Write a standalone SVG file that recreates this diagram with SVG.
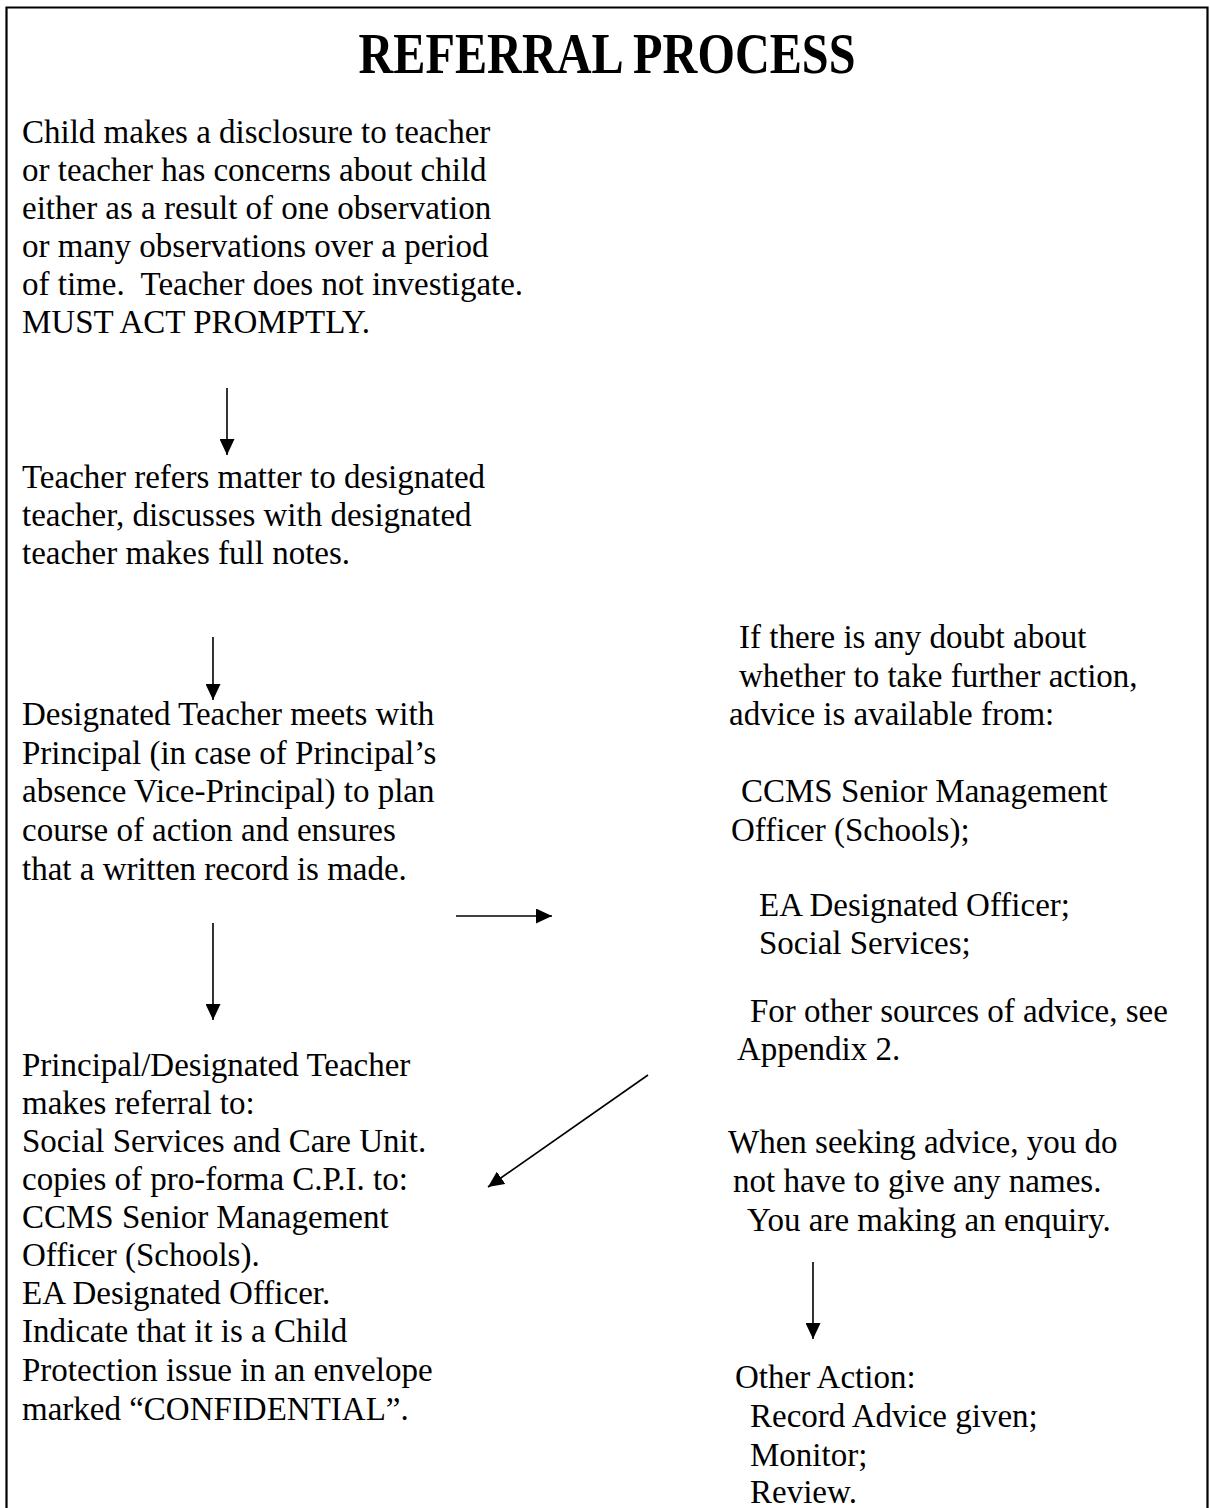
<svg xmlns="http://www.w3.org/2000/svg" width="1210" height="1508" viewBox="0 0 1210 1508">
<defs>
<style>
.t{font-family:"Liberation Serif","Times New Roman",serif;font-size:33px;fill:#000}
.title{font-family:"Liberation Serif","Times New Roman",serif;font-size:58px;font-weight:bold;fill:#000}
.c{stroke:#000;stroke-width:1.6;fill:none}
.frame{stroke:#000;stroke-width:2.2;fill:none}
</style>
<marker id="ah" markerUnits="userSpaceOnUse" markerWidth="16" markerHeight="15" refX="16" refY="7.5" orient="auto">
<path d="M0,0 L16,7.5 L0,15 z" fill="#000"/>
</marker>
</defs>
<rect width="1210" height="1508" fill="#fff"/>
<path class="frame" d="M6.5,1508 V7.5 H1207.5 V1508"/>
<g id="title"><text class="title" x="607" y="73" text-anchor="middle" textLength="497" lengthAdjust="spacingAndGlyphs">REFERRAL PROCESS</text></g>
<g id="node-disclosure">
<text class="t" x="22" y="143">Child makes a disclosure to teacher</text>
<text class="t" x="22" y="181">or teacher has concerns about child</text>
<text class="t" x="22" y="219">either as a result of one observation</text>
<text class="t" x="22" y="257">or many observations over a period</text>
<text class="t" x="22" y="295" xml:space="preserve">of time.  Teacher does not investigate.</text>
<text class="t" x="22" y="333">MUST ACT PROMPTLY.</text>
</g>
<g id="node-refers">
<text class="t" x="22" y="488">Teacher refers matter to designated</text>
<text class="t" x="22" y="526">teacher, discusses with designated</text>
<text class="t" x="22" y="564">teacher makes full notes.</text>
</g>
<g id="node-designated">
<text class="t" x="22" y="725">Designated Teacher meets with</text>
<text class="t" x="22" y="764">Principal (in case of Principal’s</text>
<text class="t" x="22" y="802">absence Vice-Principal) to plan</text>
<text class="t" x="22" y="841">course of action and ensures</text>
<text class="t" x="22" y="880">that a written record is made.</text>
</g>
<g id="node-referral">
<text class="t" x="22" y="1076">Principal/Designated Teacher</text>
<text class="t" x="22" y="1114">makes referral to:</text>
<text class="t" x="22" y="1152">Social Services and Care Unit.</text>
<text class="t" x="22" y="1190">copies of pro-forma C.P.I. to:</text>
<text class="t" x="22" y="1228">CCMS Senior Management</text>
<text class="t" x="22" y="1266">Officer (Schools).</text>
<text class="t" x="22" y="1304">EA Designated Officer.</text>
<text class="t" x="22" y="1342">Indicate that it is a Child</text>
<text class="t" x="22" y="1381">Protection issue in an envelope</text>
<text class="t" x="22" y="1420">marked “CONFIDENTIAL”.</text>
</g>
<g id="node-advice">
<text class="t" x="739" y="648">If there is any doubt about</text>
<text class="t" x="739" y="687">whether to take further action,</text>
<text class="t" x="729" y="725">advice is available from:</text>
<text class="t" x="741" y="802">CCMS Senior Management</text>
<text class="t" x="731" y="841">Officer (Schools);</text>
<text class="t" x="759" y="916">EA Designated Officer;</text>
<text class="t" x="759" y="954">Social Services;</text>
<text class="t" x="750" y="1022">For other sources of advice, see</text>
<text class="t" x="737" y="1060">Appendix 2.</text>
</g>
<g id="node-enquiry">
<text class="t" x="728" y="1153">When seeking advice, you do</text>
<text class="t" x="733" y="1192">not have to give any names.</text>
<text class="t" x="747" y="1231">You are making an enquiry.</text>
</g>
<g id="node-other">
<text class="t" x="735" y="1388">Other Action:</text>
<text class="t" x="750" y="1427">Record Advice given;</text>
<text class="t" x="750" y="1466">Monitor;</text>
<text class="t" x="750" y="1503">Review.</text>
</g>
<g id="connectors">
<line class="c" x1="227" y1="388" x2="227" y2="455" marker-end="url(#ah)"/>
<line class="c" x1="213" y1="637" x2="213" y2="700" marker-end="url(#ah)"/>
<line class="c" x1="213" y1="923" x2="213" y2="1020" marker-end="url(#ah)"/>
<line class="c" x1="456" y1="916" x2="552" y2="916" marker-end="url(#ah)"/>
<line class="c" x1="648" y1="1075" x2="488" y2="1187" marker-end="url(#ah)"/>
<line class="c" x1="813" y1="1262" x2="813" y2="1339" marker-end="url(#ah)"/>
</g>
</svg>
